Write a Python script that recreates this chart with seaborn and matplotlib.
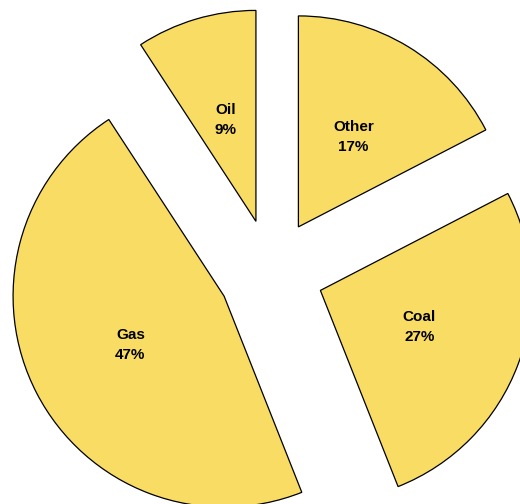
import matplotlib
matplotlib.use("Agg")
import matplotlib.pyplot as plt
import seaborn as sns

categories = ["Other", "Coal", "Gas", "Oil"]
values = [17.4, 26.6, 46.8, 9.2]

sns.set_theme(style="white")
plt.rcParams['font.family'] = ['Liberation Sans', 'DejaVu Sans']

fig = plt.figure(figsize=(5.2, 5.04), dpi=100)
ax = fig.add_axes([0, 0, 1, 1])
colors = ["#F8DC64"] * len(values)

labels = [f"{c}\n{round(v)}%" for c, v in zip(categories, values)]
wedges, texts = ax.pie(values, startangle=90, counterclock=False, colors=colors,
                       explode=[0.25] * len(values),
                       wedgeprops=dict(edgecolor="black", linewidth=0.9),
                       labels=labels, labeldistance=0.5)
for t in texts:
    t.set_horizontalalignment("center")
    t.set_verticalalignment("center")
    t.set_fontsize(11)
    t.set_fontweight("bold")
    t.set_color("black")
    t.set_linespacing(1.55)

ax.set_xlim(-1.284, 1.180)
ax.set_ylim(-1.100, 1.289)
ax.set_aspect("auto")
ax.axis("off")
fig.savefig("out.png", dpi=100)
